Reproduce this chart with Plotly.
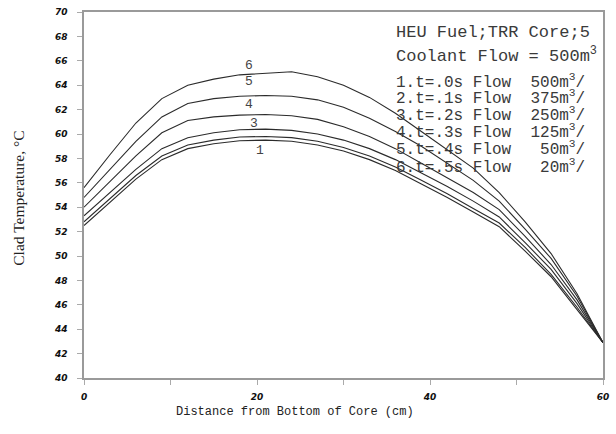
import plotly.graph_objects as go

# ---- data ----
x_cm = [0, 3, 6, 9, 12, 15, 18, 21, 24, 27, 30, 33, 36, 39, 42, 45, 48, 51, 54, 57, 60]

curve_1 = [52.5, 54.4, 56.3, 57.9, 58.8, 59.2, 59.45, 59.5, 59.4, 59.1, 58.6, 57.9, 57.0, 55.9, 54.8, 53.6, 52.4, 50.4, 48.3, 45.6, 42.9]
curve_2 = [52.8, 54.7, 56.6, 58.2, 59.1, 59.5, 59.75, 59.8, 59.7, 59.4, 58.9, 58.2, 57.3, 56.2, 55.1, 53.9, 52.7, 50.7, 48.5, 45.8, 42.9]
curve_3 = [53.3, 55.2, 57.1, 58.8, 59.7, 60.1, 60.35, 60.4, 60.3, 60.0, 59.5, 58.8, 57.9, 56.8, 55.7, 54.5, 53.2, 51.1, 48.9, 46.1, 42.9]
curve_4 = [54.0, 56.1, 58.2, 60.1, 61.1, 61.4, 61.55, 61.6, 61.5, 61.2, 60.6, 59.8, 58.8, 57.6, 56.4, 55.2, 53.8, 51.6, 49.3, 46.4, 42.9]
curve_5 = [54.8, 57.1, 59.4, 61.4, 62.5, 62.9, 63.1, 63.15, 63.1, 62.8, 62.2, 61.3, 60.2, 59.0, 57.6, 56.2, 54.5, 52.2, 49.8, 46.7, 42.9]
curve_6 = [55.6, 58.3, 60.9, 62.9, 64.0, 64.5, 64.85, 65.0, 65.1, 64.7, 64.0, 63.0, 61.7, 60.2, 58.7, 57.2, 55.2, 52.8, 50.2, 46.9, 42.9]

series = [curve_1, curve_2, curve_3, curve_4, curve_5, curve_6]

# curve labels (text, x, y)
curve_label_text = ["1", "3", "4", "5", "6"]
curve_label_x = [20.4, 19.6, 19.1, 19.1, 19.1]
curve_label_y = [58.65, 60.85, 62.4, 64.3, 65.65]

y_ticks = list(range(40, 71, 2))
x_ticks = [0, 20, 40, 60]

NB = "\u00a0"
note_lines = [
    "HEU Fuel;TRR Core;5",
    "Coolant Flow = 500m<sup>3</sup>",
    "1.t=.0s Flow  500m<sup>3</sup>/",
    "2.t=.1s Flow  375m<sup>3</sup>/",
    "3.t=.2s Flow  250m<sup>3</sup>/",
    "4.t=.3s Flow  125m<sup>3</sup>/",
    "5.t=.4s Flow   50m<sup>3</sup>/",
    "6.t=.5s Flow   20m<sup>3</sup>/",
]
note_y_px = [31, 53, 80, 96, 113, 130, 147, 165]
note_size = [17, 17, 16, 16, 16, 16, 16, 16]

W, H = 616, 434
ML, MR, MT, MB = 84, 7, 10, 56
PW, PH = W - ML - MR, H - MT - MB

fig = go.Figure()
for s in series:
    fig.add_trace(go.Scatter(x=x_cm, y=s, mode="lines",
                             line=dict(color="#2b2b2b", width=1.1),
                             showlegend=False, hoverinfo="skip"))

for t, xx, yy in zip(curve_label_text, curve_label_x, curve_label_y):
    fig.add_annotation(x=xx, y=yy, xref="x", yref="y", text=t, showarrow=False,
                       font=dict(family="Liberation Mono", size=13, color="#444"))

for t, ypx, fs in zip(note_lines, note_y_px, note_size):
    fig.add_annotation(x=(398 - ML) / PW, y=1 - (ypx - MT) / PH, xref="paper", yref="paper",
                       xanchor="left", yanchor="middle", text=t.replace(" ", NB),
                       showarrow=False,
                       font=dict(family="Liberation Mono", size=fs, color="#3a3a3a"))

fig.add_annotation(x=(297 - ML) / PW, y=-(412 - MT - PH) / PH, xref="paper", yref="paper",
                   text="Distance from Bottom of Core (cm)", showarrow=False,
                   xanchor="center", yanchor="middle",
                   font=dict(family="Liberation Mono", size=12, color="#222"))
fig.add_annotation(x=(18 - ML) / PW, y=1 - (197 - MT) / PH, xref="paper", yref="paper",
                   text="Clad Temperature, \u00b0C", showarrow=False, textangle=-90,
                   xanchor="center", yanchor="middle",
                   font=dict(family="Liberation Serif", size=15.5, color="#222"))

axis_common = dict(showline=True, linecolor="#9a9a9a", linewidth=1.5, mirror=True,
                   showgrid=False, zeroline=False, ticks="outside", ticklen=5,
                   tickcolor="#aaaaaa", tickwidth=1)

fig.update_xaxes(range=[0, 60], tickvals=x_ticks, ticktext=[str(v) for v in x_ticks],
                 minor=dict(tickvals=[10, 30, 50], ticks="outside", ticklen=5, tickcolor="#aaaaaa"),
                 tickfont=dict(family="DejaVu Sans", size=9, color="#111", weight="bold", style="italic"),
                 ticklabelstandoff=4, **axis_common)
fig.update_yaxes(range=[40, 70], tickvals=y_ticks, ticktext=[str(v) for v in y_ticks],
                 tickfont=dict(family="DejaVu Sans", size=9, color="#111", weight="bold", style="italic"),
                 ticklabelstandoff=8, **axis_common)

fig.update_layout(width=W, height=H, margin=dict(l=ML, r=MR, t=MT, b=MB),
                  plot_bgcolor="white", paper_bgcolor="white")

fig.write_html("out.html")
